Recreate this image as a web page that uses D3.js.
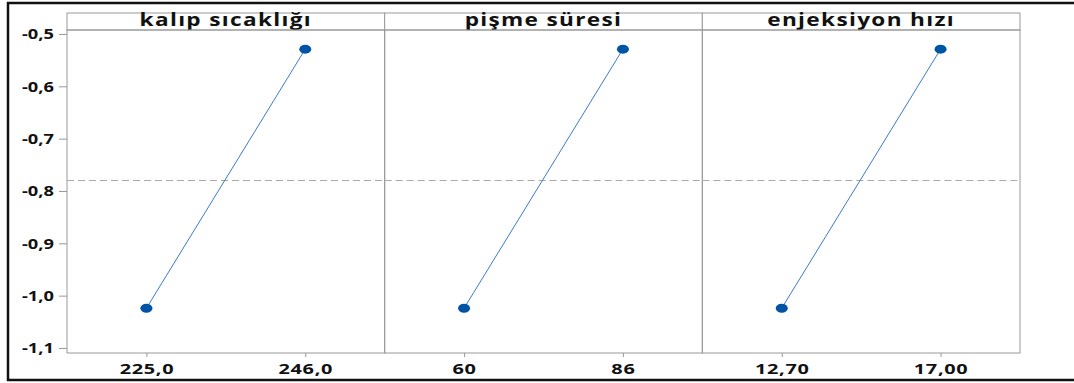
<!DOCTYPE html>
<html>
<head>
<meta charset="utf-8">
<script src="https://cdnjs.cloudflare.com/ajax/libs/d3/7.8.5/d3.min.js"></script>
<style>
  body { margin: 0; background: #fff; }
  text { font-family: "Open Sans", "DejaVu Sans", sans-serif; font-weight: 700; fill: #111; }
</style>
</head>
<body>
<div id="chart"></div>
<script>
// factors (panel titles) and their levels
const factors = ["kalıp sıcaklığı", "pişme süresi", "enjeksiyon hızı"];
const levels = [["225,0", "246,0"], ["60", "86"], ["12,70", "17,00"]];
// mean response at each level
const means = [[-1.024, -0.529], [-1.024, -0.529], [-1.024, -0.529]];
const grandMean = -0.78;
const yTicks = [-0.5, -0.6, -0.7, -0.8, -0.9, -1.0, -1.1];

const W = 1074, H = 383;
const margin = {top: 30, left: 67, right: 54, bottom: 30};
const stripH = 17;
const panelW = (W - margin.left - margin.right) / factors.length;
const plotBottom = H - margin.bottom;
const stretch = 1.33; // glyphs in the original are wide

const svg = d3.select("#chart").append("svg")
    .attr("width", W)
    .attr("height", H);

// outer frame (no right side visible)
svg.append("path")
    .attr("d", `M${W},3 H8 V380 H${W}`)
    .attr("fill", "none")
    .attr("stroke", "#111")
    .attr("stroke-width", 2.5);

const y = d3.scaleLinear()
    .domain([-1.1096, -0.4924])
    .range([plotBottom, margin.top]);

const fmt = d => d3.format(".1f")(d).replace(".", ",").replace("−", "-");

// stretch tick labels horizontally around their anchor
function widen(sel, s) {
    sel.each(function() {
        const t = d3.select(this);
        const x = +t.attr("x") || 0;
        t.attr("x", 0).attr("transform", `translate(${x},0) scale(${s},1)`);
    });
}

// y axis
const yAxis = svg.append("g")
    .attr("transform", `translate(${margin.left},0)`)
    .call(d3.axisLeft(y).tickValues(yTicks).tickSize(8).tickPadding(5).tickFormat(fmt));
yAxis.select(".domain").remove();
yAxis.selectAll("line").attr("stroke", "#999");
yAxis.selectAll("text").style("font-size", "15px").call(widen, 1.22);

factors.forEach((f, i) => {
    const x0 = margin.left + i * panelW;
    const g = svg.append("g").attr("transform", `translate(${x0},0)`);

    const x = d3.scalePoint()
        .domain(levels[i])
        .range([0, panelW])
        .padding(0.5);

    // strip
    g.append("rect")
        .attr("x", 0).attr("y", margin.top - stripH)
        .attr("width", panelW).attr("height", stripH)
        .attr("fill", "#fff").attr("stroke", "#999");
    g.append("text")
        .attr("transform", `translate(${panelW / 2},${margin.top - 4}) scale(${stretch},1)`)
        .attr("text-anchor", "middle")
        .attr("letter-spacing", "1px")
        .style("font-size", "17px")
        .text(f);

    // panel frame
    g.append("rect")
        .attr("x", 0).attr("y", margin.top)
        .attr("width", panelW).attr("height", plotBottom - margin.top)
        .attr("fill", "none").attr("stroke", "#999");

    // reference line (grand mean)
    g.append("line")
        .attr("x1", 0).attr("x2", panelW)
        .attr("y1", y(grandMean)).attr("y2", y(grandMean))
        .attr("stroke", "#aaa")
        .attr("stroke-dasharray", "7,4");

    // x axis
    const xAxis = g.append("g")
        .attr("transform", `translate(0,${plotBottom})`)
        .call(d3.axisBottom(x).tickSize(4).tickPadding(6));
    xAxis.select(".domain").remove();
    xAxis.selectAll("line").attr("stroke", "#999");
    xAxis.selectAll("text").style("font-size", "15px").attr("letter-spacing", "0.5px").call(widen, stretch);

    const pts = levels[i].map((l, j) => ({level: l, value: means[i][j]}));

    g.append("path")
        .datum(pts)
        .attr("fill", "none")
        .attr("stroke", "#3c7bc8")
        .attr("stroke-width", 1)
        .attr("d", d3.line().x(d => x(d.level)).y(d => y(d.value)));

    g.selectAll("ellipse")
        .data(pts)
        .enter().append("ellipse")
        .attr("cx", d => x(d.level))
        .attr("cy", d => y(d.value))
        .attr("rx", 6).attr("ry", 4.5)
        .attr("fill", "#0054a6");
});
</script>
</body>
</html>
